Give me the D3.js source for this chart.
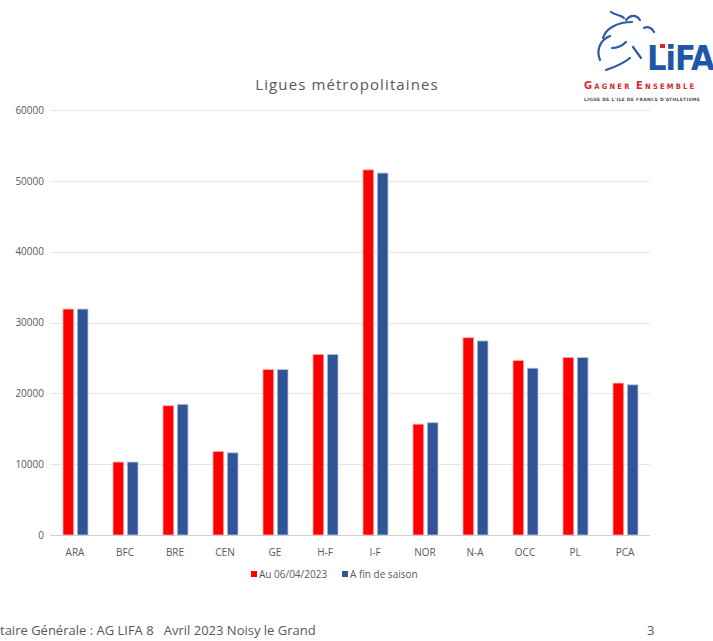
<!DOCTYPE html>
<html>
<head>
<meta charset="utf-8">
<script src="https://cdn.jsdelivr.net/npm/d3@7"></script>
<style>
  html, body { margin: 0; padding: 0; background: #fff; }
  svg { display: block; font-family: "Open Sans", "Noto Sans", sans-serif; }
</style>
</head>
<body>
<div id="chart"></div>
<script>
// Ligues métropolitaines : licences au 06/04/2023 vs fin de saison

const categories = ["ARA", "BFC", "BRE", "CEN", "GE", "H-F", "I-F", "NOR", "N-A", "OCC", "PL", "PCA"];
const seriesNames = ["Au 06/04/2023", "A fin de saison"];
const valuesAu = [31900, 10300, 18250, 11800, 23350, 25500, 51550, 15650, 27850, 24650, 25050, 21450];
const valuesFin = [31900, 10300, 18450, 11600, 23350, 25500, 51100, 15850, 27400, 23550, 25050, 21200];
const yTicks = [0, 10000, 20000, 30000, 40000, 50000, 60000];

const colors = ["#FF0000", "#2F5597"];
const W = 713, H = 641;

const svg = d3.select("#chart").append("svg")
  .attr("width", W)
  .attr("height", H);

// Echelles
const x = d3.scaleBand().domain(categories).range([50, 650]).paddingInner(0).paddingOuter(0);
const y = d3.scaleLinear().domain([0, 60000]).range([535, 110]);
const xSub = d3.scaleBand().domain(seriesNames).range([13, 38]).paddingInner(0.25);

// Grille
svg.append("g")
  .selectAll("line")
  .data(yTicks)
  .join("line")
  .attr("x1", 50).attr("x2", 650)
  .attr("y1", d => Math.round(y(d)) + 0.5)
  .attr("y2", d => Math.round(y(d)) + 0.5)
  .attr("stroke", d => d === 0 ? "#d0d0d0" : "#e6e6e6")
  .attr("stroke-width", 1);

// Axe Y
const yAxis = svg.append("g")
  .attr("transform", "translate(44,0)")
  .call(d3.axisLeft(y).tickValues(yTicks).tickSize(0).tickPadding(0).tickFormat(d3.format("d")));
yAxis.select(".domain").remove();
yAxis.selectAll("text")
  .attr("fill", "#595959")
  .attr("font-size", 10)
  .attr("font-family", "Liberation Sans Narrow, Open Sans, sans-serif");

// Axe X
const xAxis = svg.append("g")
  .attr("transform", "translate(0,540)")
  .call(d3.axisBottom(x).tickSize(0).tickPadding(9));
xAxis.select(".domain").remove();
xAxis.selectAll("text")
  .attr("fill", "#595959")
  .attr("font-size", 10)
  .attr("font-family", "Liberation Sans Narrow, Open Sans, sans-serif");

// Barres
const rows = categories.map((c, i) => ({ cat: c, vals: [valuesAu[i], valuesFin[i]] }));
const groups = svg.append("g")
  .selectAll("g")
  .data(rows)
  .join("g")
  .attr("transform", d => `translate(${x(d.cat)},0)`);

groups.selectAll("rect")
  .data(d => d.vals.map((v, k) => ({ name: seriesNames[k], v, k })))
  .join("rect")
  .attr("x", d => xSub(d.name))
  .attr("width", xSub.bandwidth())
  .attr("y", d => y(d.v))
  .attr("height", d => y(0) - y(d.v))
  .attr("fill", d => colors[d.k])
  .attr("stroke", d => d.k === 0 ? "#ffb0b0" : "#b8c6e2")
  .attr("stroke-width", 0.8);

// Titre
svg.append("text")
  .attr("x", 347).attr("y", 90)
  .attr("text-anchor", "middle")
  .attr("font-size", 15)
  .attr("letter-spacing", 1.1)
  .attr("fill", "#595959")
  .text("Ligues métropolitaines");

// Légende
const legend = svg.append("g").attr("transform", "translate(251,578)");
const legendX = [0, 91];
seriesNames.forEach((n, k) => {
  legend.append("rect")
    .attr("x", legendX[k]).attr("y", -7)
    .attr("width", 6).attr("height", 6)
    .attr("fill", colors[k]);
  legend.append("text")
    .attr("x", legendX[k] + 8).attr("y", 0)
    .attr("font-size", 10)
    .attr("font-family", "Liberation Sans Narrow, Open Sans, sans-serif")
    .attr("fill", "#595959")
    .text(n);
});

// Pied de page
svg.append("text")
  .attr("x", 0).attr("y", 635)
  .attr("font-size", 13)
  .attr("font-family", "Liberation Sans Narrow, Open Sans, sans-serif")
  .attr("fill", "#595959")
  .attr("xml:space", "preserve")
  .text("taire Générale : AG LIFA 8   Avril 2023 Noisy le Grand");
svg.append("text")
  .attr("x", 647).attr("y", 635)
  .attr("font-size", 13)
  .attr("fill", "#595959")
  .text("3");

// Logo LIFA (approximation)
const logo = svg.append("g");
const swoosh = [
  "M611,12 C616,16 620,14 624,18",
  "M626,20 C630,15 636,14 640,20",
  "M603,38 C606,28 618,22 632,22",
  "M600,60 C596,50 600,40 610,36",
  "M612,48 C618,48 622,46 626,42",
  "M633,47 L641,58",
  "M606,70 C615,67 624,63 630,58",
  "M644,28 C648,26 652,28 654,32"
];
logo.selectAll("path")
  .data(swoosh)
  .join("path")
  .attr("d", d => d)
  .attr("fill", "none")
  .attr("stroke", "#2a5ca8")
  .attr("stroke-width", 2.2)
  .attr("stroke-linecap", "round");
logo.append("text")
  .attr("x", 647).attr("y", 70)
  .attr("font-size", 34)
  .attr("font-weight", "bold")
  .attr("font-family", "Liberation Sans Narrow, DejaVu Sans Condensed, sans-serif")
  .attr("fill", "#1f56a8")
  .attr("letter-spacing", -1)
  .text("LiFA");
logo.append("rect")
  .attr("x", 660).attr("y", 44).attr("width", 5).attr("height", 4)
  .attr("fill", "#d9262c");
const slogan = logo.append("text")
  .attr("x", 584).attr("y", 89)
  .attr("font-weight", "bold")
  .attr("letter-spacing", 2.2)
  .attr("font-family", "DejaVu Sans Condensed, DejaVu Sans, sans-serif")
  .attr("fill", "#d9262c");
[["G", 11], ["AGNER ", 7.5], ["E", 11], ["NSEMBLE", 7.5]].forEach(([t, s]) => {
  slogan.append("tspan").attr("font-size", s).text(t);
});
logo.append("text")
  .attr("x", 584).attr("y", 101)
  .attr("font-size", 4.5)
  .attr("font-weight", "bold")
  .attr("letter-spacing", 0.3)
  .attr("font-family", "DejaVu Sans, sans-serif")
  .attr("fill", "#555")
  .text("LIGUE DE L'ILE DE FRANCE D'ATHLETISME");
</script>
</body>
</html>
